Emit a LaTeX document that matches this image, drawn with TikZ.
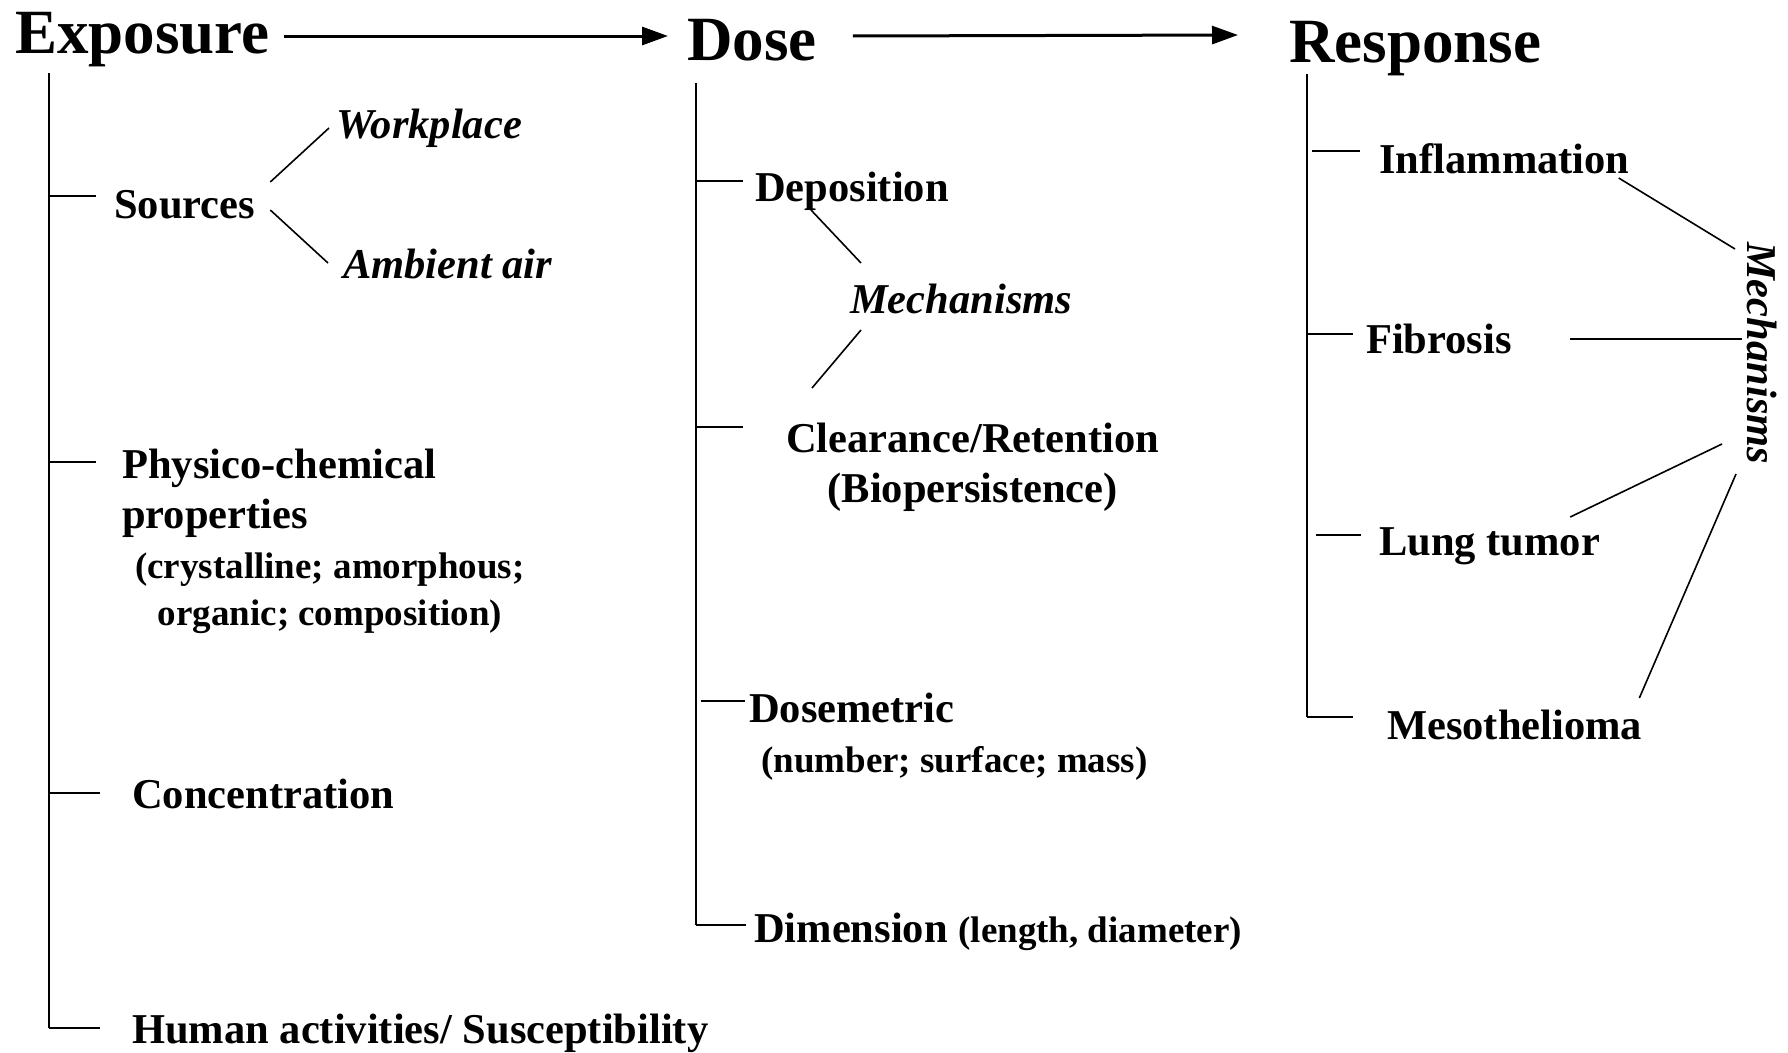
\documentclass[tikz,border=0pt]{standalone}
\usepackage{fontspec}
\setmainfont{Liberation Serif}
\usetikzlibrary{arrows.meta}

\begin{document}
\begin{tikzpicture}[x=1pt,y=-1pt]
	\useasboundingbox (0,0) rectangle (1788,1052);

	\begin{scope}[every node/.style={anchor=base west, inner sep=0pt, font=\fontsize{63}{70}\selectfont\bfseries}]
		\node (exposure) at (15,53) {Exposure};
		\node (dose) at (687,60) {Dose};
		\node (response) at (1289,62) {Response};
	\end{scope}

	\begin{scope}[every node/.style={anchor=base west, inner sep=0pt, font=\fontsize{42.5}{50}\selectfont\bfseries}]
		\node (sources) at (114,218) {Sources};
		\node[align=left] (physico) at (122,528) {Physico-chemical\\properties};
		\node (conc) at (132,808) {Concentration};
		\node (human) at (132,1043) {Human activities/ Susceptibility};
		\node (depo) at (755,201.5) {Deposition};
		\node[align=center] (clear) at (786,502) {Clearance/Retention\\(Biopersistence)};
		\node (dosem) at (749,722) {Dosemetric};
		\node (dim) at (754,942) {Dimension {\fontsize{37}{47}\selectfont (length, diameter)}};
		\node (infl) at (1379,173) {Inflammation};
		\node (fib) at (1366,353) {Fibrosis};
		\node (lung) at (1379,555) {Lung tumor};
		\node (meso) at (1387,739) {Mesothelioma};
	\end{scope}

	\begin{scope}[every node/.style={anchor=base west, inner sep=0pt, font=\fontsize{37}{47}\selectfont\bfseries}]
		\node[align=center] (physnote) at (135,625) {(crystalline; amorphous;\\organic; composition)};
		\node (dosenote) at (761,772) {(number; surface; mass)};
	\end{scope}

	\begin{scope}[every node/.style={anchor=base west, inner sep=0pt, font=\fontsize{42.5}{50}\selectfont\bfseries\itshape}]
		\node (workplace) at (336,138) {Workplace};
		\node (ambient) at (343,278) {Ambient air};
		\node (mechdose) at (850,313) {Mechanisms};
		\node[rotate=-90] (mechresp) at (1747,242) {Mechanisms};
	\end{scope}

	\begin{scope}[>={Triangle[length=26pt,width=18pt]}, line width=3pt]
		\draw[->] ([shift={(14,-17)}]exposure.base east) -- ([shift={(-19,-24)}]dose.base west);
		\draw[->] ([shift={(36,-24)}]dose.base east) -- ([shift={(-51,-27)}]response.base west);
	\end{scope}

	\begin{scope}[line width=2pt]
		\coordinate (e0) at (49,73);
		\coordinate (e1) at (49,196);
		\coordinate (e2) at (49,462);
		\coordinate (e3) at (50,793);
		\coordinate (e4) at (49,1028);
		\draw (e0) -- (e4);
		\draw (e1) -- ([shift={(-18,-22)}]sources.base west);
		\draw (e2) -- ([shift={(-26,-66)}]physico.base west);
		\draw (e3) -- ([shift={(-32,-15)}]conc.base west);
		\draw (e4) -- ([shift={(-32,-15)}]human.base west);

		\coordinate (d0) at (696,83);
		\coordinate (d1) at (696,181);
		\coordinate (d2) at (696,427);
		\coordinate (d3) at (701,701);
		\coordinate (d4) at (696,925);
		\draw (d0) -- (d4);
		\draw (d1) -- ([shift={(-12,-20.5)}]depo.base west);
		\draw (d2) -- ([shift={(-43,-75)}]clear.base west);
		\draw (d3) -- ([shift={(-4,-21)}]dosem.base west);
		\draw (d4) -- ([shift={(-8,-17)}]dim.base west);

		\coordinate (r0) at (1307,74);
		\coordinate (r1) at (1312,151);
		\coordinate (r2) at (1307,334);
		\coordinate (r3) at (1316,535);
		\coordinate (r4) at (1307,717);
		\draw (r0) -- (r4);
		\draw (r1) -- ([shift={(-19,-22)}]infl.base west);
		\draw (r2) -- ([shift={(-13,-19)}]fib.base west);
		\draw (r3) -- ([shift={(-18,-20)}]lung.base west);
		\draw (r4) -- ([shift={(-34,-22)}]meso.base west);
	\end{scope}

	\begin{scope}[line width=1.6pt]
		\draw ([shift={(15,-36)}]sources.base east) -- ([shift={(-7,-10)}]workplace.base west);
		\draw ([shift={(15,-8)}]sources.base east) -- ([shift={(-15,-15)}]ambient.base west);
		\draw ([shift={(56,8.5)}]depo.base west) -- ([shift={(11,-50)}]mechdose.base west);
		\draw ([shift={(11,17)}]mechdose.base west) -- ([shift={(26,-114)}]clear.base west);
		\draw ([shift={(-11,5)}]infl.base east) -- ([shift={(-12,7)}]mechresp.base west);
		\draw ([shift={(58,-14)}]fib.base east) -- ([shift={(-5,97)}]mechresp.base west);
		\draw ([shift={(-30,-38)}]lung.base east) -- ([shift={(-25,202)}]mechresp.base west);
		\draw ([shift={(-3,-41)}]meso.base east) -- ([shift={(-11,232)}]mechresp.base west);
	\end{scope}
\end{tikzpicture}
\end{document}
